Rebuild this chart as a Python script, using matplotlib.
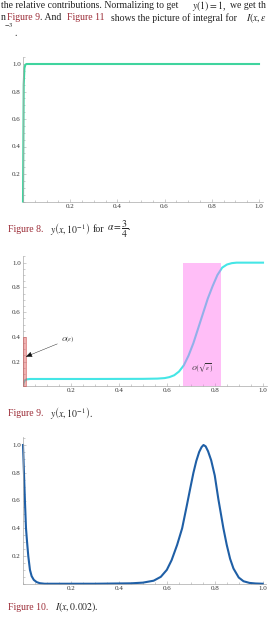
import matplotlib
matplotlib.use("Agg")
import matplotlib.pyplot as plt
from matplotlib.ticker import MultipleLocator

plt.rcParams['font.family'] = ['Liberation Serif', 'DejaVu Serif']
plt.rcParams['mathtext.fontset'] = 'stix'

W, H = 277, 628

# Figure 8: y(x, 1e-1), alpha = 3/4
x8 = [0, 0.003, 0.006, 0.01, 0.015, 1.0]
y8 = [0, 0.85, 0.97, 0.995, 1.0, 1.0]

# Figure 9: y(x, 1e-1)
x9 = [0, 0.003, 0.008, 0.015, 0.03, 0.3, 0.5, 0.56, 0.59, 0.61, 0.63, 0.65,
      0.67, 0.69, 0.71, 0.73, 0.75, 0.77, 0.79, 0.81, 0.83, 0.85, 0.87, 0.89, 1.0]
y9 = [0, 0.03, 0.05, 0.057, 0.06, 0.06, 0.061, 0.063, 0.067, 0.075, 0.09, 0.12,
      0.17, 0.25, 0.35, 0.47, 0.59, 0.71, 0.81, 0.9, 0.96, 0.985, 0.996, 1.0, 1.0]
box9 = [0.665, 0.823]      # O(sqrt(eps)) layer
bar9 = [0.0, 0.012, 0.4]   # O(eps) layer: x0, x1, height

# Figure 10: I(x, 0.002)
x10 = [0, 0.004, 0.008, 0.0125, 0.017, 0.022, 0.029, 0.036, 0.045, 0.057, 0.07, 0.09,
       0.3, 0.45, 0.5, 0.545, 0.575, 0.6, 0.62, 0.643, 0.664, 0.683, 0.698, 0.711,
       0.723, 0.735, 0.745, 0.753, 0.762, 0.772, 0.785, 0.80, 0.815, 0.836, 0.85,
       0.864, 0.878, 0.9, 0.92, 0.945, 0.97, 1.0]
y10 = [1.0, 0.8, 0.6, 0.4, 0.3, 0.2, 0.1, 0.055, 0.028, 0.012, 0.004, 0.0,
       0.0, 0.003, 0.008, 0.022, 0.05, 0.1, 0.17, 0.28, 0.4, 0.56, 0.69, 0.8,
       0.885, 0.95, 0.985, 1.0, 0.99, 0.955, 0.89, 0.78, 0.61, 0.4, 0.28,
       0.18, 0.11, 0.045, 0.018, 0.006, 0.002, 0.0]

ticks = [0.2, 0.4, 0.6, 0.8, 1.0]
tick_labels = ['0.2', '0.4', '0.6', '0.8', '1.0']

fig = plt.figure(figsize=(W / 100, H / 100), dpi=100)


def make_axes(x0, x1px, y0, yscale, ytop=1.05, xright=1.015):
    xs = x1px - x0
    ax = fig.add_axes([x0 / W, (H - y0) / H, xs * xright / W, yscale * ytop / H])
    ax.set_xlim(0, xright)
    ax.set_ylim(0, ytop)
    for s in ['top', 'right']:
        ax.spines[s].set_visible(False)
    for s in ['left', 'bottom']:
        ax.spines[s].set_color('#a8a8a8')
        ax.spines[s].set_linewidth(0.5)
    ax.set_xticks(ticks)
    ax.set_xticklabels(tick_labels)
    ax.set_yticks(ticks)
    ax.set_yticklabels(tick_labels)
    ax.xaxis.set_minor_locator(MultipleLocator(0.05))
    ax.yaxis.set_minor_locator(MultipleLocator(0.05))
    ax.tick_params(which='both', direction='in', color='#a8a8a8', width=0.4,
                   labelsize=5, labelcolor='#333333', pad=1.5)
    ax.tick_params(which='major', length=2.5)
    ax.tick_params(which='minor', length=1.3)
    ax.patch.set_alpha(0)
    return ax


def put(xpx, ypx, s, color='#222222', size=7.0):
    fig.text(xpx / W, 1 - ypx / H, s, fontsize=size, va='center', ha='left', color=color)


red = '#9b2a35'

# top body text (cropped paragraph)
put(1, 6, 'the relative contributions. Normalizing to get')
put(192, 6, r'$y(1)=1$,')
put(230, 6, 'we get th')
put(0.5, 18, 'n')
put(7, 18, 'Figure 9', red)
put(40, 18, '. And')
put(67, 18, 'Figure 11', red)
put(111, 18, 'shows the picture of integral for')
put(246, 18, r'$I\left(x,\varepsilon\right.$')
put(4, 28, r'$^{-3}$')
put(14, 33, '.')

# Figure 8
ax1 = make_axes(23, 259, 201.5, 137.5)
ax1.plot(x8, y8, color='#3fd49e', lw=1.5, solid_joinstyle='round', clip_on=False)
put(8, 229, 'Figure 8.', red)
put(50, 229, r'$y\left(x,10^{-1}\right)$')
put(93, 229, 'for')
put(107, 229, r'$\alpha=\dfrac{3}{4}$.')

# Figure 9
ax2 = make_axes(23, 263, 386.4, 123.75)
ax2.plot(x9, y9, color='#45e6e6', lw=1.5, solid_joinstyle='round', zorder=2)
ax2.fill_between(box9, 0, 1.0, color='#ff66ee', alpha=0.42, lw=0, zorder=3)
ax2.fill_between(bar9[:2], 0, bar9[2], color='#e06060', alpha=0.5, lw=0.6,
                 edgecolor='#c84040', zorder=3)
ax2.annotate(r'$O(\varepsilon)$', xy=(0.012, 0.24), xytext=(0.16, 0.38),
             fontsize=4.8, color='#333333', va='center', ha='left',
             arrowprops=dict(arrowstyle='-|>,head_length=0.8,head_width=0.35',
                             color='#111111', lw=0.3, shrinkA=1, shrinkB=0))
ax2.text(0.745, 0.15, r'$O\left(\sqrt{\varepsilon}\right)$', fontsize=4.8,
         color='#333333', ha='center', va='center', zorder=4)
put(8, 413, 'Figure 9.', red)
put(50, 413, r'$y\left(x,10^{-1}\right)$.')

# Figure 10
ax3 = make_axes(23, 262.7, 583.75, 138.75, ytop=1.06)
ax3.plot(x10, y10, color='#1f5fa6', lw=1.5, solid_joinstyle='round', clip_on=False)
put(8, 607, 'Figure 10.', red)
put(55, 607, r'$I\left(x,0.002\right)$.')

fig.savefig('out.png', dpi=100)
